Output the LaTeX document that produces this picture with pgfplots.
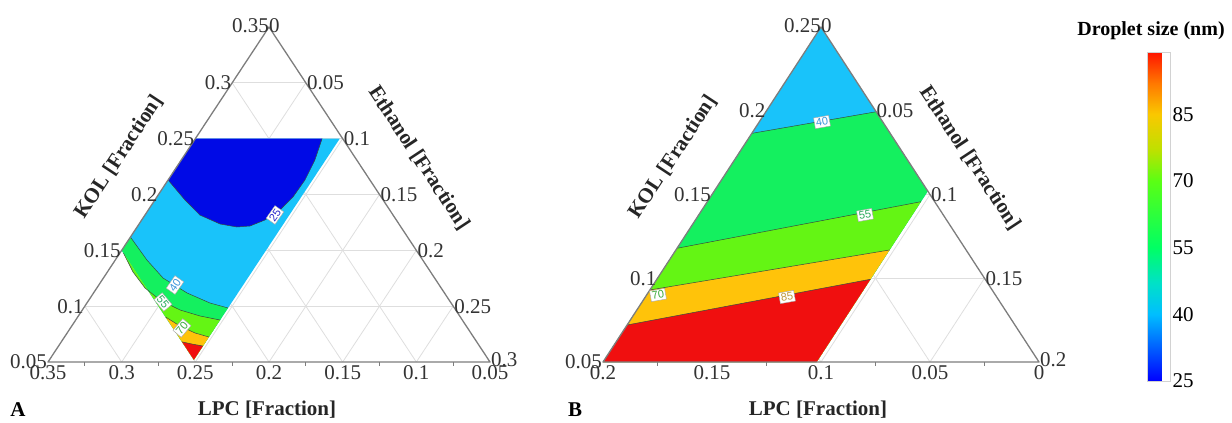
\documentclass[border=0pt]{standalone}
\usepackage{pgfplots}
\pgfplotsset{compat=1.18}
\usepackage{fontspec}
\setmainfont{Liberation Serif}
\setsansfont{Liberation Sans}

\definecolor{cDark}{RGB}{0,10,230}
\definecolor{cLight}{RGB}{25,195,250}
\definecolor{cGreen}{RGB}{20,240,95}
\definecolor{cLime}{RGB}{100,245,20}
\definecolor{cOrange}{RGB}{255,195,10}
\definecolor{cRed}{RGB}{240,15,15}
\definecolor{cFrame}{RGB}{125,125,125}
\definecolor{cGrid}{RGB}{222,222,222}
\definecolor{cLine}{RGB}{55,75,65}
\definecolor{t25}{RGB}{40,40,200}
\definecolor{t40}{RGB}{60,150,220}
\definecolor{t55}{RGB}{40,170,90}
\definecolor{t70}{RGB}{60,170,60}
\definecolor{t85}{RGB}{190,150,60}

\newcommand{\tf}{\fontsize{21}{21}\selectfont}
\newcommand{\bft}{\bfseries\fontsize{21}{21}\selectfont}
\tikzset{
 tl/.style={font=\tf, inner sep=0pt, text=black!80},
 lbl/.style={draw=gray!70, fill=white, inner sep=1.5pt, font=\sffamily\fontsize{11}{11}\selectfont},
 cl/.style={cLine, line width=0.5pt},
}
\pgfplotsset{
 /pgf/number format/assume math mode=true,
 /pgfplots/table/ternA/.style={x expr={48+(\thisrow{K}-0.05)/0.3*221+\thisrow{E}/0.3*442}, y expr={362-(\thisrow{K}-0.05)/0.3*335}},
 /pgfplots/table/ternB/.style={x expr={603+(\thisrow{K}-0.05)/0.2*218+\thisrow{E}/0.2*436}, y expr={362-(\thisrow{K}-0.05)/0.2*335}},
}
\newcommand{\segA}[4]{\addplot[cGrid, line width=0.8pt] table[ternA, row sep=\\] {K E\\ #1 #2\\ #3 #4\\};}
\newcommand{\segB}[4]{\addplot[cGrid, line width=0.8pt] table[ternB, row sep=\\] {K E\\ #1 #2\\ #3 #4\\};}

\begin{document}
\begin{tikzpicture}
\begin{axis}[
 scale only axis, width=1232pt, height=421pt,
 xmin=0, xmax=1232, ymin=0, ymax=421, y dir=reverse,
 hide axis, clip=false,
 colormap={drop}{rgb255(0cm)=(0,0,255) rgb255(15cm)=(0,190,255) rgb255(22cm)=(0,225,200) rgb255(30cm)=(0,255,100) rgb255(45cm)=(90,255,20) rgb255(52cm)=(190,225,0) rgb255(60cm)=(250,200,0) rgb255(67cm)=(255,120,0) rgb255(74cm)=(255,20,0)},
 colorbar, point meta min=25, point meta max=99,
 colorbar style={
   at={(1139pt,40pt)}, anchor=south west,
   scale only axis, width=23pt, height=329pt,
   ytick={25,40,55,70,85},
   yticklabel style={font=\tf, inner xsep=2pt},
   major tick length=0pt,
   axis line style={draw=gray!35},
   /pgf/number format/assume math mode=true,
 },
]
\addplot[draw=none] coordinates {(0,0) (1232,421)};

% ---------------- Panel A grid ----------------
\segA{0.1}{0}{0.1}{0.25}
\segA{0.15}{0}{0.15}{0.2}
\segA{0.2}{0}{0.2}{0.15}
\segA{0.25}{0}{0.25}{0.1}
\segA{0.3}{0}{0.3}{0.05}
\segA{0.05}{0.05}{0.1}{0}
\segA{0.05}{0.1}{0.15}{0}
\segA{0.05}{0.15}{0.2}{0}
\segA{0.05}{0.2}{0.25}{0}
\segA{0.05}{0.25}{0.3}{0}
\segA{0.05}{0.05}{0.3}{0.05}
\segA{0.05}{0.1}{0.25}{0.1}
\segA{0.05}{0.15}{0.2}{0.15}
\segA{0.05}{0.2}{0.15}{0.2}
\segA{0.05}{0.25}{0.1}{0.25}

% ---------------- Panel A fills ----------------
\addplot[fill=cLight, draw=none] table[ternA] {
K E
0.15 0
0.25 0
0.25 0.098
0.052 0.098
};
\addplot[fill=cDark, draw=none] table[ternA] {
K E
0.25 0
0.25 0.086
0.2309 0.0907
0.213 0.0929
0.1978 0.0924
0.1861 0.0894
0.1772 0.0837
0.1718 0.0762
0.1709 0.0678
0.1736 0.055
0.1816 0.0373
0.1951 0.0204
0.213 0
};
\addplot[fill=cGreen, draw=none] table[ternA] {
K E
0.1619 0
0.1413 0.0215
0.1252 0.0405
0.1118 0.0635
0.1028 0.0836
0.0984 0.098
0.052 0.098
0.15 0
};
\addplot[fill=cLime, draw=none] table[ternA] {
K E
0.1475 0.0025
0.1306 0.0174
0.1163 0.0327
0.1055 0.0483
0.0966 0.0663
0.0912 0.0826
0.0876 0.098
0.052 0.098
};
\addplot[fill=cOrange, draw=none] table[ternA] {
K E
0.0903 0.0597
0.0822 0.0735
0.076 0.0868
0.0724 0.098
0.052 0.098
};
\addplot[fill=cRed, draw=none] table[ternA] {
K E
0.068 0.082
0.0661 0.0897
0.0643 0.098
0.052 0.098
};
% contour lines A
\addplot[cl] table[ternA] {
K E
0.25 0.086
0.2309 0.0907
0.213 0.0929
0.1978 0.0924
0.1861 0.0894
0.1772 0.0837
0.1718 0.0762
0.1709 0.0678
0.1736 0.055
0.1816 0.0373
0.1951 0.0204
0.213 0
};
\addplot[cl] table[ternA] {
K E
0.1619 0
0.1413 0.0215
0.1252 0.0405
0.1118 0.0635
0.1028 0.0836
0.0984 0.098
};
\addplot[cl] table[ternA] {
K E
0.1475 0.0025
0.1306 0.0174
0.1163 0.0327
0.1055 0.0483
0.0966 0.0663
0.0912 0.0826
0.0876 0.098
};
\addplot[cl] table[ternA] {
K E
0.0903 0.0597
0.0822 0.0735
0.076 0.0868
0.0724 0.098
};
\addplot[cl] table[ternA] {
K E
0.068 0.082
0.0661 0.0897
0.0643 0.098
};

% ---------------- Panel B grid ----------------
\segB{0.1}{0}{0.1}{0.15}
\segB{0.15}{0}{0.15}{0.1}
\segB{0.2}{0}{0.2}{0.05}
\segB{0.05}{0.05}{0.1}{0}
\segB{0.05}{0.1}{0.15}{0}
\segB{0.05}{0.15}{0.2}{0}
\segB{0.05}{0.05}{0.2}{0.05}
\segB{0.05}{0.1}{0.15}{0.1}
\segB{0.05}{0.15}{0.1}{0.15}

% ---------------- Panel B fills ----------------
\addplot[fill=cLight, draw=none] table[ternB] {
K E
0.25 0
0.05 0
0.05 0.098
0.152 0.098
};
\addplot[fill=cGreen, draw=none] table[ternB] {
K E
0.1865 0
0.1994 0.0506
0.152 0.098
0.05 0.098
0.05 0
};
\addplot[fill=cLime, draw=none] table[ternB] {
K E
0.1179 0
0.1457 0.098
0.05 0.098
0.05 0
};
\addplot[fill=cOrange, draw=none] table[ternB] {
K E
0.0930 0
0.1169 0.098
0.05 0.098
0.05 0
};
\addplot[fill=cRed, draw=none] table[ternB] {
K E
0.0721 0
0.0994 0.098
0.05 0.098
0.05 0
};
\addplot[cl] table[ternB] {
K E
0.1865 0
0.1994 0.0506
};
\addplot[cl] table[ternB] {
K E
0.1179 0
0.1457 0.098
};
\addplot[cl] table[ternB] {
K E
0.0930 0
0.1169 0.098
};
\addplot[cl] table[ternB] {
K E
0.0721 0
0.0994 0.098
};

% ---------------- Frames ----------------
\addplot[cFrame, line width=1.3pt, line join=round] table[ternA] {
K E
0.05 0
0.35 0
0.05 0.3
0.05 0
0.35 0
};
\addplot[cFrame, line width=1.3pt, line join=round] table[ternB] {
K E
0.05 0
0.25 0
0.05 0.2
0.05 0
0.25 0
};
\pgfplotsinvokeforeach{84.8,158.5,232.2,305.8,379.5,453.2,657.5,766.5,875.5,984.5}{
 \addplot[cFrame, line width=0.9pt] coordinates {(#1,362) (#1,366)};
}

% ---------------- Contour labels ----------------
\node[lbl, text=t25, rotate=55] at (axis cs:275,215) {25};
\node[lbl, text=t40, rotate=55] at (axis cs:175,285) {40};
\node[lbl, text=t55, rotate=-50] at (axis cs:163,302) {55};
\node[lbl, text=t70, rotate=50] at (axis cs:182,328) {70};
\node[lbl, text=t40, rotate=10] at (axis cs:822,122) {40};
\node[lbl, text=t55, rotate=10] at (axis cs:865,215) {55};
\node[lbl, text=t70, rotate=10] at (axis cs:658,295) {70};
\node[lbl, text=t85, rotate=10] at (axis cs:787,297) {85};

% ---------------- Tick labels A ----------------
\node[tl, anchor=east] at (axis cs:47,362) {0.05};
\node[tl, anchor=east] at (axis cs:83.8,306.2) {0.1};
\node[tl, anchor=east] at (axis cs:120.7,250.3) {0.15};
\node[tl, anchor=east] at (axis cs:157.5,194.5) {0.2};
\node[tl, anchor=east] at (axis cs:194.3,138.7) {0.25};
\node[tl, anchor=east] at (axis cs:231.2,82.8) {0.3};
\node[tl, anchor=east] at (axis cs:269,26) {0.35};
\node[tl, anchor=west] at (axis cs:269,26) {0};
\node[tl, anchor=west] at (axis cs:306.8,82.8) {0.05};
\node[tl, anchor=west] at (axis cs:343.7,138.7) {0.1};
\node[tl, anchor=west] at (axis cs:380.5,194.5) {0.15};
\node[tl, anchor=west] at (axis cs:417.3,250.3) {0.2};
\node[tl, anchor=west] at (axis cs:454.2,306.2) {0.25};
\node[tl, anchor=west] at (axis cs:491,360) {0.3};
\node[tl, anchor=north] at (axis cs:48,365) {0.35};
\node[tl, anchor=north] at (axis cs:121.7,365) {0.3};
\node[tl, anchor=north] at (axis cs:195.3,365) {0.25};
\node[tl, anchor=north] at (axis cs:269,365) {0.2};
\node[tl, anchor=north] at (axis cs:342.7,365) {0.15};
\node[tl, anchor=north] at (axis cs:416.3,365) {0.1};
\node[tl, anchor=north] at (axis cs:490,365) {0.05};

% ---------------- Tick labels B ----------------
\node[tl, anchor=east] at (axis cs:602,362) {0.05};
\node[tl, anchor=east] at (axis cs:656.5,278.3) {0.1};
\node[tl, anchor=east] at (axis cs:711,194.5) {0.15};
\node[tl, anchor=east] at (axis cs:765.5,110.8) {0.2};
\node[tl, anchor=east] at (axis cs:821,26) {0.25};
\node[tl, anchor=west] at (axis cs:821,26) {0};
\node[tl, anchor=west] at (axis cs:876.5,110.8) {0.05};
\node[tl, anchor=west] at (axis cs:931,194.5) {0.1};
\node[tl, anchor=west] at (axis cs:985.5,278.3) {0.15};
\node[tl, anchor=west] at (axis cs:1040,360) {0.2};
\node[tl, anchor=north] at (axis cs:603,365) {0.2};
\node[tl, anchor=north] at (axis cs:712,365) {0.15};
\node[tl, anchor=north] at (axis cs:821,365) {0.1};
\node[tl, anchor=north] at (axis cs:930,365) {0.05};
\node[tl, anchor=north] at (axis cs:1039,365) {0};

% ---------------- Titles ----------------
\node[font=\bft, text=black!85] at (axis cs:267,410) {LPC [Fraction]};
\node[font=\bft, text=black!85] at (axis cs:818,410) {LPC [Fraction]};
\node[font=\bft, text=black!85, rotate=56.6] at (axis cs:119,157) {KOL [Fraction]};
\node[font=\bft, text=black!85, rotate=56.6] at (axis cs:673,157) {KOL [Fraction]};
\node[font=\bft, text=black!85, rotate=-56.6] at (axis cs:419,158) {Ethanol [Fraction]};
\node[font=\bft, text=black!85, rotate=-56.6] at (axis cs:970,158) {Ethanol [Fraction]};
\node[font=\bft] at (axis cs:18,410) {A};
\node[font=\bft] at (axis cs:575,410) {B};
\node[font=\bfseries\fontsize{20}{20}\selectfont] at (axis cs:1151,31) {Droplet size (nm)};
\end{axis}
\end{tikzpicture}
\end{document}
